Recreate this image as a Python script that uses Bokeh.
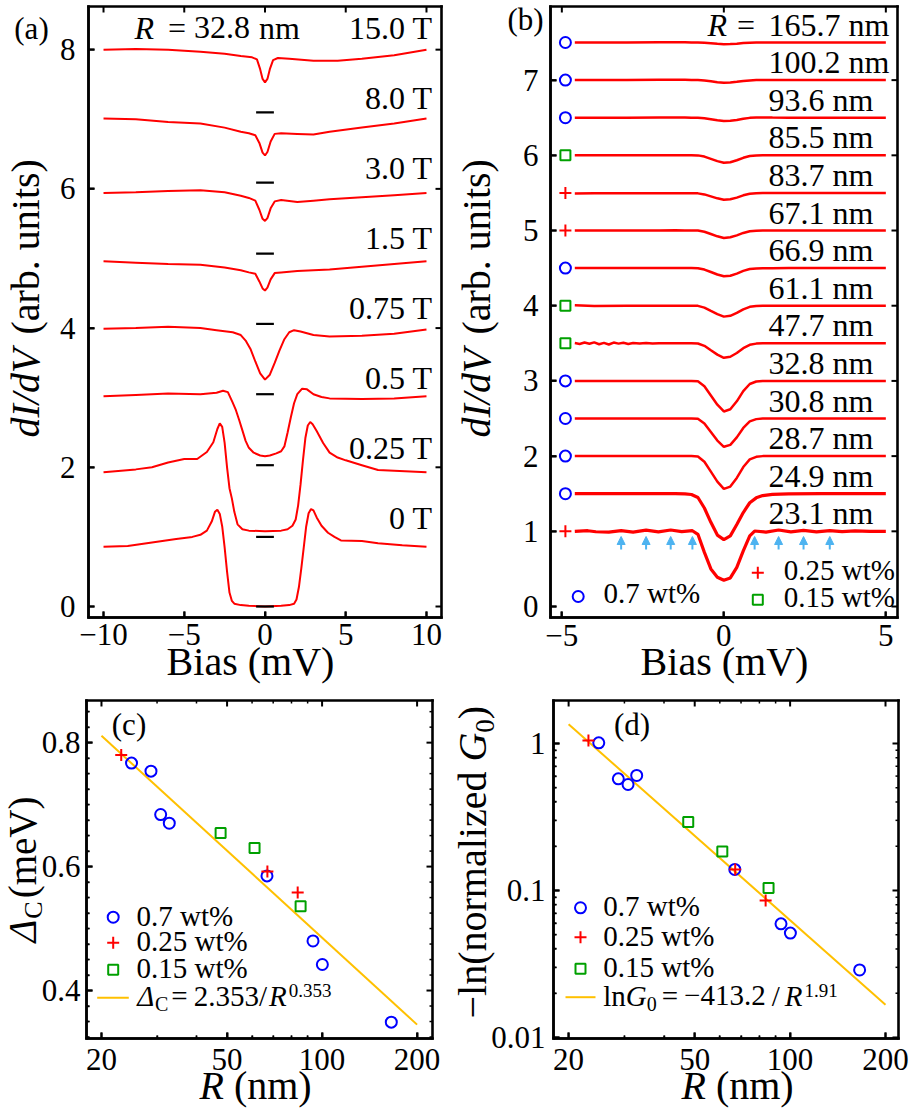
import numpy as np
from bokeh.plotting import figure
from bokeh.layouts import column, row
from bokeh.models import (Label, FixedTicker, Arrow, NormalHead, Range1d, ColumnDataSource)
from bokeh.embed import file_html
from bokeh.resources import INLINE

FONT = "Liberation Serif"
RED = "#ff0000"
BLUE = "#0000ff"
GREEN = "#00a000"
GOLD = "#ffc000"
SKY = "#4db3f0"

# ======================= DATA =======================
# (a) dI/dV spectra of the R = 32.8 nm particle at several fields (offset curves)
field_labels = ["15.0 T", "8.0 T", "3.0 T", "1.5 T", "0.75 T", "0.5 T", "0.25 T", "0 T"]
bias_15T = [-10, -8, -6, -4, -2.5, -1.5, -0.8, -0.5, -0.3, -0.15, 0.0, 0.15, 0.3, 0.5, 0.8, 1.5, 3.0, 4.5, 6.0, 8.0, 10]
didv_15T = [8.00, 8.01, 8.00, 7.97, 7.94, 7.91, 7.89, 7.86, 7.72, 7.58, 7.53, 7.58, 7.72, 7.85, 7.88, 7.87, 7.84, 7.84, 7.87, 7.92, 8.00]
bias_8T = [-10, -8, -6, -4, -2.5, -1.5, -1.0, -0.6, -0.35, -0.15, 0.0, 0.15, 0.35, 0.6, 1.0, 2.0, 3.0, 4.0, 6.0, 8.0, 10]
didv_8T = [7.01, 7.00, 6.96, 6.94, 6.88, 6.82, 6.80, 6.77, 6.66, 6.52, 6.48, 6.53, 6.68, 6.79, 6.80, 6.79, 6.78, 6.82, 6.88, 6.94, 7.01]
bias_3T = [-10, -8, -6, -4, -2.5, -1.5, -1.0, -0.6, -0.35, -0.15, 0.0, 0.15, 0.35, 0.6, 1.0, 2.0, 3.0, 4.0, 6.0, 8.0, 10]
didv_3T = [5.94, 5.95, 5.97, 5.98, 5.95, 5.90, 5.87, 5.83, 5.70, 5.57, 5.54, 5.58, 5.72, 5.82, 5.84, 5.81, 5.83, 5.85, 5.88, 5.91, 5.94]
bias_1p5T = [-10, -8, -6, -4, -2.5, -1.5, -1.0, -0.6, -0.35, -0.15, 0.0, 0.15, 0.35, 0.6, 1.0, 2.0, 3.0, 4.0, 6.0, 8.0, 10]
didv_1p5T = [4.96, 4.94, 4.92, 4.91, 4.87, 4.83, 4.80, 4.78, 4.67, 4.57, 4.54, 4.58, 4.70, 4.79, 4.80, 4.82, 4.83, 4.84, 4.88, 4.92, 4.96]
bias_0p75T = [-10, -8, -6, -4, -3, -2, -1.5, -1.2, -0.9, -0.6, -0.3, 0.0, 0.3, 0.6, 0.9, 1.2, 1.5, 1.8, 2.2, 3.0, 4.0, 6.0, 8.0, 10]
didv_0p75T = [3.99, 4.00, 4.02, 4.00, 3.97, 3.94, 3.90, 3.82, 3.70, 3.52, 3.35, 3.26, 3.33, 3.50, 3.68, 3.84, 3.94, 3.97, 3.95, 3.90, 3.88, 3.89, 3.92, 3.98]
bias_0p5T = [-10, -8, -6, -4, -3, -2.6, -2.3, -2.0, -1.8, -1.6, -1.4, -1.2, -1.0, -0.7, -0.3, 0.0, 0.3, 0.7, 1.0, 1.2, 1.4, 1.6, 1.8, 2.0, 2.3, 2.6, 3.0, 3.5, 4.0, 6.0, 8.0, 10]
didv_0p5T = [3.02, 3.04, 3.06, 3.05, 3.07, 3.10, 3.08, 2.93, 2.82, 2.68, 2.53, 2.38, 2.28, 2.21, 2.17, 2.16, 2.17, 2.20, 2.23, 2.30, 2.50, 2.72, 2.92, 3.05, 3.13, 3.12, 3.05, 3.01, 2.99, 2.98, 2.99, 3.02]
bias_0p25T = [-10, -8, -7, -6, -5, -4.2, -3.6, -3.2, -2.95, -2.8, -2.65, -2.5, -2.35, -2.2, -2.05, -1.9, -1.7, -1.4, -1.0, 0.0, 1.0, 1.4, 1.7, 1.9, 2.05, 2.2, 2.35, 2.5, 2.65, 2.8, 2.95, 3.2, 3.6, 4.0, 4.5, 5.0, 6.0, 7.0, 8.0, 10]
didv_0p25T = [1.93, 1.97, 2.00, 2.07, 2.12, 2.12, 2.22, 2.36, 2.55, 2.63, 2.58, 2.35, 2.00, 1.70, 1.55, 1.36, 1.18, 1.11, 1.09, 1.08, 1.09, 1.11, 1.16, 1.25, 1.45, 1.75, 2.10, 2.42, 2.60, 2.65, 2.62, 2.52, 2.35, 2.21, 2.14, 2.10, 2.03, 1.96, 1.95, 1.93]
bias_0T = [-10, -8.5, -7, -5.5, -4.5, -4.0, -3.6, -3.3, -3.1, -2.95, -2.8, -2.65, -2.5, -2.35, -2.2, -2.05, -1.9, -1.5, -1.0, 0.0, 1.0, 1.5, 1.8, 1.95, 2.1, 2.25, 2.4, 2.55, 2.7, 2.85, 3.0, 3.2, 3.5, 3.9, 4.3, 4.7, 6.0, 7.0, 8.5, 10]
didv_0T = [0.86, 0.87, 0.92, 0.97, 1.00, 1.03, 1.09, 1.22, 1.36, 1.39, 1.33, 1.15, 0.85, 0.50, 0.20, 0.08, 0.04, 0.02, 0.01, 0.00, 0.01, 0.02, 0.04, 0.10, 0.28, 0.55, 0.85, 1.15, 1.34, 1.40, 1.38, 1.28, 1.16, 1.06, 1.00, 0.95, 0.94, 0.91, 0.88, 0.86]
zero_levels = [7.1, 6.09, 5.07, 4.06, 3.05, 2.03, 1.0, 0.0]

# (b) normalized dI/dV for particles of different radius (relative to offset)
radius_b = ["165.7", "100.2", "93.6", "85.5", "83.7", "67.1", "66.9", "61.1",
            "47.7", "32.8", "30.8", "28.7", "24.9", "23.1"]
offset_b = [7.5, 7.0, 6.5, 6.0, 5.5, 5.0, 4.5, 4.0, 3.5, 3.0, 2.5, 2.0, 1.5, 1.0]
series_b = ["0.7", "0.7", "0.7", "0.15", "0.25", "0.25", "0.7", "0.15",
            "0.15", "0.7", "0.7", "0.7", "0.7", "0.25"]
bias_b = [-4.6, -4.0, -3.0, -2.0, -1.5, -1.2, -1.0, -0.8, -0.6, -0.4, -0.2, 0.0,
          0.2, 0.4, 0.6, 0.8, 1.0, 1.2, 1.5, 2.0, 3.0, 4.0, 5.0]
rel_165_7 = [0, 0, 0, 0.003, 0.003, 0.002, 0.0, 0.0, -0.004, -0.010, -0.017, -0.022, -0.020, -0.015, -0.007, -0.002, 0.0, 0.0, 0.0, 0.0, 0.0, 0.0, 0.0]
rel_100_2 = [0, 0, 0, 0.004, 0.005, 0.004, 0.002, 0.0, -0.006, -0.016, -0.027, -0.035, -0.032, -0.023, -0.012, -0.004, 0.0, 0.002, 0.002, 0.0, 0.0, 0.0, 0.0]
rel_93_6 = [0, 0, 0, 0.002, 0.003, 0.002, 0.0, 0.0, -0.008, -0.021, -0.035, -0.045, -0.041, -0.030, -0.015, -0.002, 0.004, 0.004, 0.002, 0.0, 0.0, 0.0, 0.0]
rel_85_5 = [0, 0, 0, 0.002, 0.002, 0.001, 0.0, -0.001, -0.017, -0.047, -0.077, -0.099, -0.092, -0.066, -0.033, -0.010, -0.002, 0.0, 0.0, 0.0, 0.0, 0.0, 0.0]
rel_83_7 = [-0.008, -0.006, -0.004, -0.004, -0.004, -0.005, -0.005, -0.006, -0.020, -0.046, -0.072, -0.091, -0.085, -0.062, -0.032, -0.012, -0.004, -0.002, 0.0, 0.0, 0.0, 0.0, 0.0]
rel_67_1 = [0, 0, 0, 0, 0.002, 0.001, 0.0, -0.001, -0.017, -0.047, -0.077, -0.100, -0.090, -0.064, -0.032, -0.010, -0.002, 0.0, 0.0, 0.0, 0.0, 0.0, 0.0]
rel_66_9 = [0, 0, 0, 0, 0, 0, 0, -0.001, -0.019, -0.052, -0.085, -0.109, -0.101, -0.073, -0.036, -0.011, -0.004, -0.003, -0.002, 0.0, 0.0, 0.0, 0.0]
rel_61_1 = [0.005, -0.004, 0.0, 0.0, 0.0, 0.0, 0.0, -0.002, -0.025, -0.069, -0.112, -0.145, -0.134, -0.096, -0.048, -0.015, -0.003, 0.0, 0.0, 0.0, 0.0, 0.0, 0.0]
bias_b_47_7 = [-4.6, -4.45, -4.3, -4.15, -4.0, -3.85, -3.7, -3.55, -3.4, -3.25, -3.1, -2.95, -2.8, -2.6, -2.4, -2.2, -2.0, -1.5, -1.0, -0.8, -0.6, -0.4, -0.2, 0.0, 0.2, 0.4, 0.6, 0.8, 1.0, 1.2, 1.5, 2.0, 3.0, 4.0, 5.0]
rel_47_7 = [0.003, -0.008, 0.010, -0.006, 0.012, -0.012, 0.006, -0.016, 0.010, -0.004, 0.008, -0.008, 0.005, -0.003, 0.004, -0.002, 0.0, 0.002, 0.0, -0.002, -0.033, -0.092, -0.150, -0.193, -0.179, -0.129, -0.064, -0.020, -0.004, 0.0, 0.0, 0.0, 0.0, 0.0, 0.0]
rel_32_8 = [0, 0, 0, 0, 0, 0, 0, -0.004, -0.070, -0.193, -0.316, -0.406, -0.377, -0.271, -0.135, -0.041, -0.008, 0.0, 0, 0, 0, 0, 0]
rel_30_8 = [0, 0, 0, 0, 0, 0, 0, -0.004, -0.065, -0.179, -0.293, -0.376, -0.350, -0.251, -0.125, -0.038, -0.008, 0.0, 0, 0, 0, 0, 0]
rel_28_7 = [0, 0, 0, 0, 0, 0, 0, -0.004, -0.075, -0.207, -0.339, -0.436, -0.405, -0.290, -0.145, -0.044, -0.009, 0.0, 0, 0, 0, 0, 0]
rel_24_9 = [0, 0, 0, 0, 0, -0.003, -0.010, -0.050, -0.190, -0.380, -0.550, -0.610, -0.560, -0.410, -0.250, -0.120, -0.055, -0.025, -0.008, -0.002, 0, 0, 0]
bias_b_23_1 = [-4.6, -4.2, -3.95, -3.55, -3.17, -2.8, -2.4, -2.02, -1.64, -1.3, -0.97, -0.8, -0.6, -0.4, -0.2, 0.0, 0.2, 0.4, 0.6, 0.8, 0.95, 1.3, 1.69, 2.07, 2.46, 2.86, 3.27, 3.65, 4.05, 4.5, 5.0]
rel_23_1 = [0.0, 0.008, -0.006, -0.010, 0.010, -0.010, 0.015, -0.008, 0.018, -0.004, 0.008, -0.040, -0.280, -0.500, -0.610, -0.650, -0.620, -0.480, -0.260, -0.060, 0.004, -0.010, 0.018, -0.008, 0.012, -0.008, 0.010, -0.005, 0.005, 0.0, 0.0]
arrow_bias = [-3.17, -2.40, -1.64, -0.97, 0.95, 1.69, 2.46, 3.27]

# (c), (d) gap and zero-bias conductance vs radius
R_07 = [24.9, 28.7, 30.8, 32.8, 66.9, 93.6, 100.2, 165.7]
gap_07 = [0.767, 0.754, 0.684, 0.670, 0.585, 0.480, 0.442, 0.349]
G0_07 = [1.01, 0.575, 0.526, 0.606, 0.139, 0.0593, 0.0513, 0.0288]
R_025 = [23.1, 67.1, 83.7]
gap_025 = [0.780, 0.592, 0.558]
G0_025 = [1.048, 0.139, 0.0855]
R_015 = [47.7, 61.1, 85.5]
gap_015 = [0.654, 0.630, 0.536]
G0_015 = [0.292, 0.184, 0.104]
fit_R = [20, 200]
fit_gap = [0.811, 0.345]
fit_G0 = [1.352, 0.0167]

# ======================= HELPERS =======================
UP = {' ': 0.25, '(': 0.333, ')': 0.333, '.': 0.25, '/': 0.278, '=': 0.564, '\u2212': 0.564,
      '%': 0.833, 'a': 0.444, 'b': 0.5, 'c': 0.444, 'd': 0.5, 'e': 0.444, 'i': 0.278,
      'l': 0.278, 'm': 0.778, 'n': 0.5, 'o': 0.5, 'r': 0.333, 's': 0.389, 't': 0.278,
      'u': 0.5, 'w': 0.722, 'z': 0.444, 'C': 0.667, 'G': 0.722, 'V': 0.722, 'B': 0.667,
      'T': 0.611}
IT = {'d': 0.5, 'I': 0.333, '/': 0.278, 'V': 0.611, 'R': 0.611, 'G': 0.722, '\u0394': 0.612, ' ': 0.25}
MID = 0.34  # distance from baseline to the middle of the em box, in em
FRAME_C = "#000000"
HALF = 1.3  # half thickness of the frame strips, px


def tw(s, size, italic=False):
    tab = IT if italic else UP
    return sum(tab.get(c, 0.5) for c in s) * size


class Mapper:
    """Maps picture pixels to data values of one panel (box = the drawn axes frame)."""
    def __init__(self, fl, fr, ft, fb, xr, yr, xlog=False, ylog=False):
        self.fl, self.fr, self.ft, self.fb = fl, fr, ft, fb
        self.xr, self.yr, self.xlog, self.ylog = xr, yr, xlog, ylog

    def x(self, px):
        t = (px - self.fl) / (self.fr - self.fl)
        if self.xlog:
            a, b = np.log10(self.xr[0]), np.log10(self.xr[1])
            return float(10 ** (a + t * (b - a)))
        return self.xr[0] + t * (self.xr[1] - self.xr[0])

    def y(self, py):
        t = (self.fb - py) / (self.fb - self.ft)
        if self.ylog:
            a, b = np.log10(self.yr[0]), np.log10(self.yr[1])
            return float(10 ** (a + t * (b - a)))
        return self.yr[0] + t * (self.yr[1] - self.yr[0])


def label(p, m, px, py, text, size, italic=False, align="left", angle=0.0, color="black"):
    p.add_layout(Label(x=m.x(px), y=m.y(py), text=text, text_font=FONT,
                       text_font_size=f"{size}px",
                       text_font_style="italic" if italic else "normal",
                       text_align=align, text_baseline="middle", angle=angle,
                       text_color=color))


def blabel(p, m, px, pyb, text, size, italic=False, align="left"):
    label(p, m, px, pyb - MID * size, text, size, italic, align)


def runs(p, m, px, py, items, vertical=False):
    # (px, py): start of the text, on its baseline
    pos = py if vertical else px
    for it in items:
        if isinstance(it, (int, float)):
            pos += -it if vertical else it
            continue
        text, size, italic, shift = it
        lead = len(text) - len(text.lstrip(" "))
        wl = tw(" " * lead, size)
        body = text.strip(" ")
        if vertical:
            label(p, m, px - shift - MID * size, pos - wl, body, size, italic, angle=np.pi / 2)
            pos -= tw(text, size, italic)
        else:
            label(p, m, pos + wl, py - shift - MID * size, body, size, italic)
            pos += tw(text, size, italic)


def make_panel(canvas, m, xt, xminor, xover, yt, yminor, yover, xstand, ystand):
    cl, cr, ct, cb = canvas
    p = figure(width=cr - cl, height=cb - ct,
               x_range=Range1d(m.x(cl), m.x(cr)), y_range=Range1d(m.y(cb), m.y(ct)),
               x_axis_type="log" if m.xlog else "linear",
               y_axis_type="log" if m.ylog else "linear",
               output_backend="svg", toolbar_location=None,
               min_border_left=0, min_border_right=0, min_border_top=0, min_border_bottom=0)
    p.xgrid.visible = False
    p.ygrid.visible = False
    p.outline_line_color = None
    p.background_fill_color = "white"
    p.border_fill_color = "white"
    bottom = p.below[0]
    left = p.left[0]
    bottom.fixed_location = m.yr[0]
    bottom.bounds = (m.xr[0], m.xr[1])
    left.fixed_location = m.xr[0]
    left.bounds = (m.yr[0], m.yr[1])
    for ax, ticks, minor, over, st in ((bottom, xt, xminor, xover, xstand),
                                       (left, yt, yminor, yover, ystand)):
        if hasattr(ax, "background_fill_color"):
            ax.background_fill_color = None
        ax.ticker = FixedTicker(ticks=ticks, minor_ticks=minor)
        ax.axis_line_color = FRAME_C
        ax.axis_line_width = 2.4
        ax.major_tick_in = 6
        ax.major_tick_out = 0
        ax.minor_tick_in = 3
        ax.minor_tick_out = 0
        ax.major_tick_line_color = FRAME_C
        ax.major_tick_line_width = 2
        ax.minor_tick_line_color = FRAME_C
        ax.minor_tick_line_width = 1.5
        ax.axis_label = None
        ax.major_label_overrides = over
        ax.major_label_text_font = FONT
        ax.major_label_text_font_size = "31px"
        ax.major_label_text_color = "black"
        ax.major_label_standoff = st
    x0, x1 = m.xr
    y0, y1 = m.yr
    # the frame of the panel: four thin filled strips, on top of everything
    xl_o, xl_i = m.x(m.fl - HALF), m.x(m.fl + HALF)
    xr_i, xr_o = m.x(m.fr - HALF), m.x(m.fr + HALF)
    yt_o, yt_i = m.y(m.ft - HALF), m.y(m.ft + HALF)
    yb_i, yb_o = m.y(m.fb - HALF), m.y(m.fb + HALF)
    p.quad(left=[xl_o, xr_i, xl_o, xl_o], right=[xl_i, xr_o, xr_o, xr_o],
           bottom=[yb_o, yb_o, yt_i, yb_o], top=[yt_o, yt_o, yt_o, yb_i],
           fill_color=FRAME_C, line_color=None, level="overlay")
    # inward ticks on all four edges
    for ticks, length, lw in ((xt, 6, 2), (xminor, 3, 1.5)):
        if ticks:
            n = len(ticks)
            p.segment(x0=ticks + ticks, y0=[y1] * n + [y0] * n, x1=ticks + ticks,
                      y1=[m.y(m.ft + length)] * n + [m.y(m.fb - length)] * n,
                      line_color=FRAME_C, line_width=lw, level="overlay")
    for ticks, length, lw in ((yt, 6, 2), (yminor, 3, 1.5)):
        if ticks:
            n = len(ticks)
            p.segment(x0=[x1] * n + [x0] * n, y0=ticks + ticks,
                      x1=[m.x(m.fr - length)] * n + [m.x(m.fl + length)] * n, y1=ticks + ticks,
                      line_color=FRAME_C, line_width=lw, level="overlay")
    return p


marker_style = {"0.7": dict(marker="circle", line_color=BLUE, size=11),
                "0.25": dict(marker="cross", line_color=RED, size=12),
                "0.15": dict(marker="square", line_color=GREEN, size=10)}

# ======================= PANEL (a) =======================
A = Mapper(88, 441, 6, 617, (-10.93, 10.93), (-0.158, 8.62))
pa = make_panel((0, 450, 0, 686), A,
                [-10, -5, 0, 5, 10], [], {-10: "\u221210", -5: "\u22125", 0: "0", 5: "5", 10: "10"},
                [0, 2, 4, 6, 8], [], {0: "0", 2: "2", 4: "4", 6: "6", 8: "8"}, 6, 13)

curves_a = [(bias_15T, didv_15T), (bias_8T, didv_8T), (bias_3T, didv_3T), (bias_1p5T, didv_1p5T),
            (bias_0p75T, didv_0p75T), (bias_0p5T, didv_0p5T), (bias_0p25T, didv_0p25T),
            (bias_0T, didv_0T)]
for bx, dy in curves_a:
    pa.line(bx, dy, line_color=RED, line_width=2)
pa.segment(x0=[-0.55] * len(zero_levels), x1=[0.55] * len(zero_levels),
           y0=zero_levels, y1=zero_levels, line_color="black", line_width=2.2)

label(pa, A, 31, 28, "(a)", 31, align="center")
runs(pa, A, 134, 38, [("R", 32, True, 0), 14, ("=", 32, False, 0), 8, ("32.8", 32, False, 0),
                      9, ("nm", 32, False, 0)])
for i, txt in enumerate(field_labels):
    blabel(pa, A, 432, 38 + 70 * i, txt, 32, align="right")
blabel(pa, A, 250, 675, "Bias (mV)", 40, align="center")
runs(pa, A, 39, 437, [("dI/dV", 40, True, 0), 4, (" (arb. units)", 40, False, 0)], vertical=True)

# ======================= PANEL (b) =======================
B = Mapper(550, 897, 6, 617, (-5.35, 5.36), (-0.146, 7.979))
pb = make_panel((450, 909, 0, 686), B,
                [-5, 0, 5], [], {-5: "\u22125", 0: "0", 5: "5"},
                list(range(8)), [], {k: str(k) for k in range(8)}, 7, 12)

rel_b = [rel_165_7, rel_100_2, rel_93_6, rel_85_5, rel_83_7, rel_67_1, rel_66_9, rel_61_1,
         rel_47_7, rel_32_8, rel_30_8, rel_28_7, rel_24_9, rel_23_1]
bias_list = [bias_b] * 8 + [bias_b_47_7] + [bias_b] * 4 + [bias_b_23_1]
for k in range(len(radius_b)):
    yv = np.array(rel_b[k]) + offset_b[k]
    lw = 3.2 if k >= 12 else 2.5
    pb.line(bias_list[k], yv, line_color=RED, line_width=lw)
    pb.scatter([-4.89], [offset_b[k]], fill_color=None, line_width=2, **marker_style[series_b[k]])
    blabel(pb, B, 768, 35 + 37.6 * k, radius_b[k] + " nm", 32)
runs(pb, B, 707, 35, [("R", 32, True, 0), 10, ("=", 32, False, 0)])

arr_src = ColumnDataSource(dict(x=arrow_bias, y0=[B.y(549)] * len(arrow_bias),
                                y1=[B.y(536)] * len(arrow_bias)))
pb.add_layout(Arrow(end=NormalHead(size=8, fill_color=SKY, line_color=SKY, line_width=1),
                    x_start="x", y_start="y0", x_end="x", y_end="y1", source=arr_src,
                    line_color=SKY, line_width=2))

# legend (b)
pb.scatter([B.x(577.7)], [B.y(596)], fill_color=None, line_width=2, **marker_style["0.7"])
blabel(pb, B, 603, 602, "0.7 wt%", 29)
pb.scatter([B.x(757.3)], [B.y(572.3)], fill_color=None, line_width=2, **marker_style["0.25"])
blabel(pb, B, 783.3, 579, "0.25 wt%", 29)
pb.scatter([B.x(757.3)], [B.y(599.3)], fill_color=None, line_width=2, **marker_style["0.15"])
blabel(pb, B, 783.3, 606, "0.15 wt%", 29)

label(pb, B, 525, 19, "(b)", 31, align="center")
blabel(pb, B, 724, 675, "Bias (mV)", 40, align="center")
runs(pb, B, 490, 437, [("dI/dV", 40, True, 0), 4, (" (arb. units)", 40, False, 0)], vertical=True)

# ======================= PANEL (c) =======================
C = Mapper(86, 432, 700, 1038, (17.93, 223.8), (0.3226, 0.868), xlog=True)
pc = make_panel((0, 450, 686, 1109), C,
                [20, 50, 100, 200], [30, 40, 60, 70, 80, 90],
                {20: "20", 50: "50", 100: "100", 200: "200"},
                [0.4, 0.6, 0.8],
                [0.325, 0.35, 0.375, 0.425, 0.45, 0.475, 0.5, 0.525, 0.55, 0.575, 0.625, 0.65,
                 0.675, 0.7, 0.725, 0.75, 0.775, 0.825, 0.85],
                {0.4: "0.4", 0.6: "0.6", 0.8: "0.8"}, 10, 6)
pc.line(fit_R, fit_gap, line_color=GOLD, line_width=2)
pc.scatter(R_07, gap_07, fill_color=None, line_width=2, **marker_style["0.7"])
pc.scatter(R_015, gap_015, fill_color=None, line_width=2, **marker_style["0.15"])
pc.scatter(R_025, gap_025, fill_color=None, line_width=2, **marker_style["0.25"])

label(pc, C, 128.5, 724, "(c)", 31, align="center")
pc.scatter([C.x(112.7)], [C.y(916.7)], fill_color=None, line_width=2, **marker_style["0.7"])
pc.scatter([C.x(112.7)], [C.y(942.3)], fill_color=None, line_width=2, **marker_style["0.25"])
pc.scatter([C.x(112.7)], [C.y(969.3)], fill_color=None, line_width=2, **marker_style["0.15"])
pc.line([C.x(96.7), C.x(128.3)], [C.y(997.3)] * 2, line_color=GOLD, line_width=2)
blabel(pc, C, 136, 925, "0.7 wt%", 29)
blabel(pc, C, 136, 950.7, "0.25 wt%", 29)
blabel(pc, C, 136, 977, "0.15 wt%", 29)
runs(pc, C, 136.7, 1005, [("\u0394", 29, True, 0), ("C", 20, False, -5), 3, ("=", 29, False, 0), 6,
                           ("2.353/", 29, False, 0), 2, ("R", 29, True, 0), 2,
                           ("0.353", 19, False, 9)])
runs(pc, C, 199, 1099, [("R", 40, True, 0), (" (nm)", 40, False, 0)])
runs(pc, C, 35, 942, [("\u0394", 39, True, 0), ("C", 26, False, -7), 3,
                       ("(meV)", 39, False, 0)], vertical=True)

# ======================= PANEL (d) =======================
D = Mapper(553, 898, 700, 1038, (17.92, 219.8), (0.00984, 1.961), xlog=True, ylog=True)
pd_ = make_panel((450, 909, 686, 1109), D,
                 [20, 50, 100, 200], [30, 40, 60, 70, 80, 90],
                 {20: "20", 50: "50", 100: "100", 200: "200"},
                 [0.01, 0.1, 1],
                 [0.02, 0.03, 0.04, 0.05, 0.06, 0.07, 0.08, 0.09,
                  0.2, 0.3, 0.4, 0.5, 0.6, 0.7, 0.8, 0.9],
                 {0.01: "0.01", 0.1: "0.1", 1: "1"}, 10, 8)
pd_.line(fit_R, fit_G0, line_color=GOLD, line_width=2)
pd_.scatter(R_07, G0_07, fill_color=None, line_width=2, **marker_style["0.7"])
pd_.scatter(R_015, G0_015, fill_color=None, line_width=2, **marker_style["0.15"])
pd_.scatter(R_025, G0_025, fill_color=None, line_width=2, **marker_style["0.25"])

label(pd_, D, 631.5, 724, "(d)", 31, align="center")
pd_.scatter([D.x(580)], [D.y(907.3)], fill_color=None, line_width=2, **marker_style["0.7"])
pd_.scatter([D.x(580)], [D.y(936.7)], fill_color=None, line_width=2, **marker_style["0.25"])
pd_.scatter([D.x(580)], [D.y(968.3)], fill_color=None, line_width=2, **marker_style["0.15"])
pd_.line([D.x(565), D.x(595)], [D.y(996.7)] * 2, line_color=GOLD, line_width=2)
blabel(pd_, D, 602.7, 915, "0.7 wt%", 29)
blabel(pd_, D, 602.7, 945, "0.25 wt%", 29)
blabel(pd_, D, 602.7, 976, "0.15 wt%", 29)
runs(pd_, D, 602.7, 1005, [("ln", 29, False, 0), ("G", 29, True, 0), ("0", 20, False, -5), 5,
                            ("=", 29, False, 0), 6, ("\u2212413.2", 29, False, 0), 6,
                            ("/", 29, False, 0), 5, ("R", 29, True, 0), 2,
                            ("1.91", 19, False, 9)])
runs(pd_, D, 681, 1099, [("R", 40, True, 0), (" (nm)", 40, False, 0)])
runs(pd_, D, 486, 1018, [("\u2212ln(normalized", 40, False, 0), (" G", 40, True, 0),
                         ("0", 27, False, -8), (")", 40, False, 0)], vertical=True)

layout = column(row(pa, pb), row(pc, pd_))

with open("out.html", "w") as f:
    f.write(file_html(layout, INLINE))
